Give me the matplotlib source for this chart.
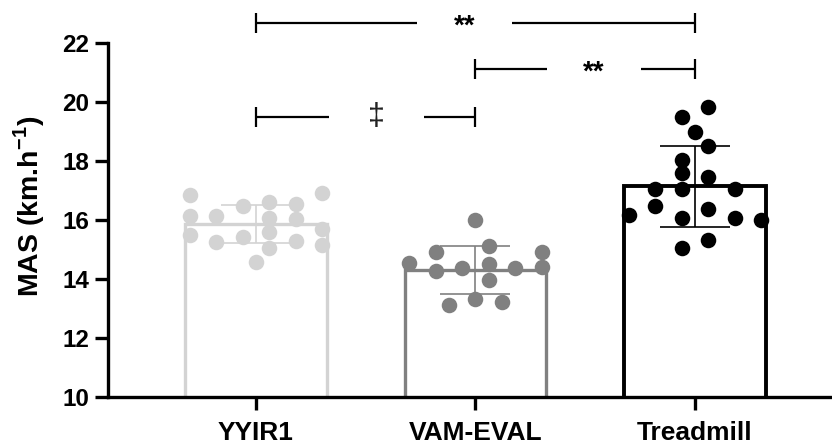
import matplotlib
matplotlib.use("Agg")
import matplotlib.pyplot as plt
import numpy as np

plt.rcParams['font.family'] = ['Liberation Sans', 'DejaVu Sans']
plt.rcParams['mathtext.fontset'] = 'custom'
plt.rcParams['mathtext.rm'] = 'Liberation Sans:bold'
plt.rcParams['mathtext.bf'] = 'Liberation Sans:bold'

# ---- data ----
categories = ["YYIR1", "VAM-EVAL", "Treadmill"]
means = [15.85, 14.3, 17.13]
sds = [0.65, 0.8, 1.37]

yyir1_values = [16.85, 16.9, 16.47, 16.6, 16.55, 16.13, 16.13, 16.07, 16.03,
                15.49, 15.42, 15.6, 15.25, 15.3, 15.05, 15.7, 15.15, 14.58]
vam_values = [16.0, 14.9, 15.1, 14.9, 14.54, 14.27, 14.37, 14.5, 14.37, 14.4,
              13.97, 13.12, 13.32, 13.22]
treadmill_values = [19.83, 19.5, 18.98, 18.5, 18.03, 17.6, 17.46, 17.05, 17.05,
                    17.05, 16.47, 16.37, 16.17, 16.07, 16.07, 16.0, 15.32, 15.05]

# swarm column slots (layout only)
yyir1_slots = [-2.5, 2.5, -0.5, 0.5, 1.5, -2.5, -1.5, 0.5, 1.5,
               -2.5, -0.5, 0.5, -1.5, 1.5, 0.5, 2.5, 2.5, 0]
vam_slots = [0, -1.5, 0.5, 2.5, -2.5, -1.5, -0.5, 0.5, 1.5, 2.5, 0.5, -1, 0, 1]
treadmill_slots = [0.5, -0.5, 0, 0.5, -0.5, -0.5, 0.5, -1.5, -0.5, 1.5,
                   -1.5, 0.5, -2.5, -0.5, 1.5, 2.5, 0.5, -0.5]

# significance brackets
bracket_pairs = [(0, 2), (1, 2), (0, 1)]
bracket_labels = ["**", "**", "\u2021"]
bracket_heights = [22.68, 21.12, 19.49]
bracket_label_x = [0.95, 1.54, 0.55]

ylim = (10, 22)
yticks = [10, 12, 14, 16, 18, 20, 22]

colors = ["#d3d3d3", "#808080", "#000000"]

# ---- figure ----
fig = plt.figure(figsize=(8.32, 4.43), dpi=100)
ax = fig.add_axes([0.1298, 0.1038, 0.8702, 0.7998])

x = np.arange(len(categories))
bar_w = 0.645
slot_unit = 0.1207

all_values = [yyir1_values, vam_values, treadmill_values]
all_slots = [yyir1_slots, vam_slots, treadmill_slots]
edge_lw = [2.4, 2.4, 2.8]

for i in range(len(categories)):
    ax.bar(x[i], means[i], width=bar_w, facecolor="white",
           edgecolor=colors[i], linewidth=edge_lw[i], zorder=2)
    ax.errorbar(x[i], means[i], yerr=sds[i], color=colors[i],
                elinewidth=1.2, capsize=25, capthick=1.2, zorder=3, fmt="none")
    xs = x[i] + np.array(all_slots[i]) * slot_unit
    ax.scatter(xs, all_values[i], s=125, color=colors[i], zorder=4,
               linewidths=0, clip_on=False)

ax.set_xlim(-0.674, 2.624)
ax.set_ylim(*ylim)
ax.set_yticks(yticks)
ax.set_xticks(x)
ax.set_xticklabels(categories)

for s in ["top", "right"]:
    ax.spines[s].set_visible(False)
for s in ["left", "bottom"]:
    ax.spines[s].set_linewidth(2.4)
ax.tick_params(axis="both", width=2.4, length=9.5, colors="black")
ax.tick_params(axis="y", pad=4, labelsize=17.5)
ax.tick_params(axis="x", pad=7.5, labelsize=19)
for lab in ax.get_xticklabels() + ax.get_yticklabels():
    lab.set_fontweight("bold")

ax.set_ylabel(r"MAS (km.h$^{-1}$)", fontsize=20.5, fontweight="bold")
ax.yaxis.set_label_coords(-0.084, 0.537)

# brackets
half_gap = 0.215
tick_h = 0.34
for (a, b), lab, h, lx in zip(bracket_pairs, bracket_labels,
                              bracket_heights, bracket_label_x):
    kw = dict(color="black", linewidth=1.6, clip_on=False,
              solid_capstyle="butt")
    ax.plot([a, lx - half_gap], [h, h], **kw)
    ax.plot([lx + half_gap, b], [h, h], **kw)
    ax.plot([a, a], [h - tick_h, h + tick_h], **kw)
    ax.plot([b, b], [h - tick_h, h + tick_h], **kw)
    if lab == "**":
        ax.text(lx, h - 0.15, lab, ha="center", va="center", fontsize=20,
                fontweight="bold", clip_on=False)
    else:
        ax.text(lx, h, lab, ha="center", va="center", fontsize=22,
                color="#222222", clip_on=False)

fig.savefig("out.png", dpi=100)
